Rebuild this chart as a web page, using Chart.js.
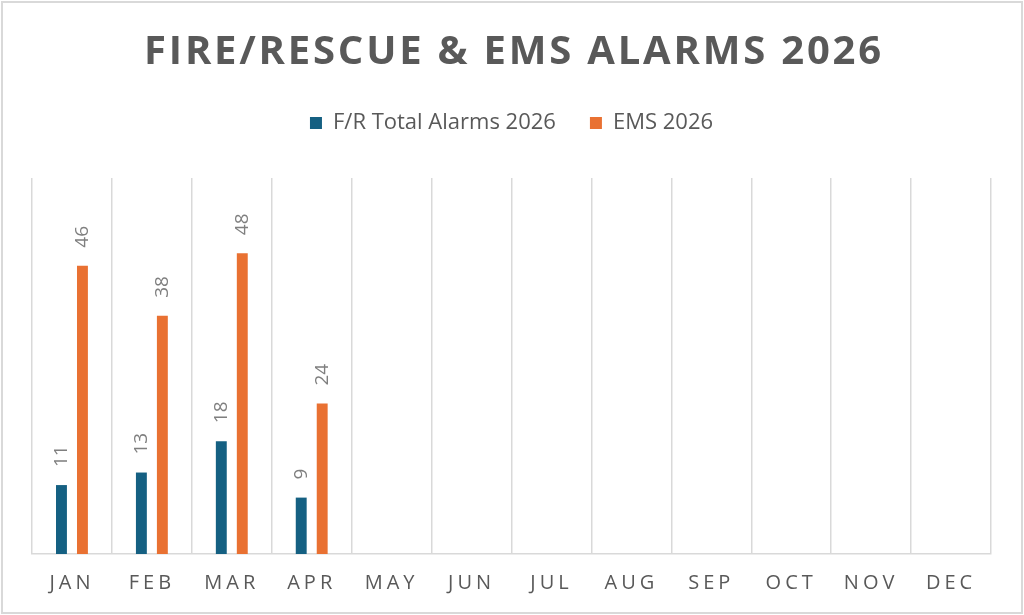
<!DOCTYPE html>
<html>
<head>
<meta charset="utf-8">
<script src="https://cdn.jsdelivr.net/npm/chart.js@4.4.1/dist/chart.umd.min.js"></script>
<style>
html,body{margin:0;padding:0;background:#fff;}
#wrap{position:absolute;left:0;top:0;width:1024px;height:615px;}
</style>
</head>
<body>
<div id="wrap"><canvas id="c"></canvas></div>
<script>
const months = ['JAN','FEB','MAR','APR','MAY','JUN','JUL','AUG','SEP','OCT','NOV','DEC'];
const fireRescue = [11, 13, 18, 9, null, null, null, null, null, null, null, null];
const ems = [46, 38, 48, 24, null, null, null, null, null, null, null, null];
const titleText = 'FIRE/RESCUE & EMS ALARMS 2026';
const seriesNames = ['F/R Total Alarms 2026', 'EMS 2026'];

const textGray = '#595959';
const gridGray = '#d9d9d9';

// empty layout box that keeps space between the legend and the plot area
const spacer = {
  id: 'spacer',
  beforeInit(chart) {
    const box = {
      position: 'top',
      weight: 100,
      fullSize: true,
      options: {},
      left: 0, top: 0, right: 0, bottom: 0, width: 0, height: 0,
      isHorizontal() { return true; },
      getPadding() { return { left: 0, right: 0, top: 0, bottom: 0 }; },
      update(maxWidth) { this.width = maxWidth; this.height = 34; },
      draw() {}
    };
    Chart.layouts.addBox(chart, box);
  }
};

const frame = {
  id: 'frame',
  beforeDraw(chart) {
    const ctx = chart.ctx;
    ctx.save();
    ctx.letterSpacing = '0px';
    ctx.fillStyle = '#fff';
    ctx.fillRect(0, 0, chart.width, chart.height);
    ctx.strokeStyle = gridGray;
    ctx.lineWidth = 2;
    ctx.strokeRect(2, 2, chart.width - 4, chart.height - 4);
    ctx.restore();
  },
  afterDatasetsDraw(chart) {
    const ctx = chart.ctx;
    ctx.save();
    ctx.font = '19px "Open Sans", sans-serif';
    ctx.fillStyle = '#7f7f7f';
    ctx.textAlign = 'left';
    ctx.textBaseline = 'middle';
    chart.data.datasets.forEach((ds, i) => {
      const meta = chart.getDatasetMeta(i);
      meta.data.forEach((bar, j) => {
        const v = ds.data[j];
        if (v === null || v === undefined) return;
        ctx.save();
        ctx.translate(bar.x, bar.y - 18);
        ctx.rotate(-Math.PI / 2);
        ctx.fillText(String(v), 0, 0);
        ctx.restore();
      });
    });
    ctx.restore();
    // letter spacing for x tick labels drawn after this (z:1)
    ctx.letterSpacing = '4px';
  },
  afterDraw(chart) {
    const ctx = chart.ctx;
    ctx.save();
    ctx.letterSpacing = '2.8px';
    ctx.font = 'bold 40px "Open Sans", sans-serif';
    ctx.fillStyle = textGray;
    ctx.textAlign = 'center';
    ctx.textBaseline = 'alphabetic';
    ctx.fillText(titleText, chart.width / 2 + 2, 64);
    ctx.restore();
    ctx.letterSpacing = '0px';
  }
};

new Chart(document.getElementById('c'), {
  type: 'bar',
  data: {
    labels: months,
    datasets: [
      { label: seriesNames[0], data: fireRescue, backgroundColor: '#156082', barPercentage: 0.52, categoryPercentage: 0.525 },
      { label: seriesNames[1], data: ems, backgroundColor: '#E97132', barPercentage: 0.52, categoryPercentage: 0.525 }
    ]
  },
  options: {
    responsive: true,
    maintainAspectRatio: false,
    animation: false,
    devicePixelRatio: 1,
    layout: { padding: { left: 32, right: 33, top: 78, bottom: 3 } },
    plugins: {
      title: { display: false },
      tooltip: { enabled: false },
      legend: {
        display: true,
        position: 'top',
        labels: {
          boxWidth: 12,
          boxHeight: 12,
          padding: 34,
          color: textGray,
          font: { size: 22, family: '"Open Sans", sans-serif' }
        }
      }
    },
    scales: {
      x: {
        grid: { offset: true, color: gridGray, lineWidth: 1.5, drawTicks: false },
        border: { color: gridGray, width: 1.5 },
        ticks: {
          z: 1,
          color: textGray,
          padding: 17,
          maxRotation: 0,
          autoSkip: false,
          font: { size: 20, family: '"Open Sans", sans-serif' }
        }
      },
      y: {
        display: false,
        min: 0,
        max: 60
      }
    }
  },
  plugins: [spacer, frame]
});
</script>
</body>
</html>
